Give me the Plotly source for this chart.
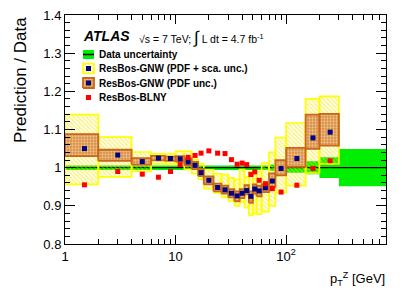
import plotly.graph_objects as go
import math

# ---------------- data ----------------
bin_edges = [0, 2, 4, 6, 8, 10, 12, 14, 16, 18, 22, 26, 30, 34, 38, 42, 46, 50,
             54, 60, 70, 80, 100, 150, 200, 300, 800]

# ResBos-GNW central value / data (first 25 bins)
gnw_central = [1.050, 1.033, 1.016, 1.025, 1.024, 1.023, 1.015, 1.006, 0.987,
               0.967, 0.948, 0.942, 0.933, 0.926, 0.933, 0.940, 0.925, 0.944,
               0.939, 0.947, 0.965, 0.998, 1.024, 1.078, 1.093]
# PDF + scale uncertainty band
gnw_tot_lo = [0.956, 0.976, 0.990, 1.010, 1.010, 1.010, 0.995, 0.984, 0.970,
              0.945, 0.934, 0.922, 0.912, 0.900, 0.910, 0.895, 0.875, 0.880,
              0.878, 0.885, 0.900, 0.935, 0.953, 0.986, 1.010]
gnw_tot_hi = [1.139, 1.080, 1.041, 1.036, 1.036, 1.043, 1.043, 1.021, 1.010,
              0.994, 0.984, 0.982, 0.973, 0.969, 0.995, 0.975, 0.990, 0.985,
              0.990, 1.012, 1.040, 1.079, 1.117, 1.180, 1.187]
# PDF-only uncertainty band
gnw_pdf_lo = [1.030, 1.018, 1.008, 1.019, 1.018, 1.016, 1.006, 0.996, 0.978,
              0.956, 0.938, 0.932, 0.922, 0.912, 0.920, 0.930, 0.908, 0.932,
              0.925, 0.936, 0.950, 0.980, 1.002, 1.049, 1.058]
gnw_pdf_hi = [1.088, 1.047, 1.025, 1.031, 1.029, 1.030, 1.024, 1.015, 0.997,
              0.977, 0.958, 0.953, 0.944, 0.938, 0.944, 0.954, 0.938, 0.956,
              0.952, 0.957, 0.985, 1.020, 1.052, 1.139, 1.141]
# ResBos-BLNY / data
blny = [0.955, 0.990, 0.983, 0.975, 0.990, 1.008, 1.027, 1.032, 1.038, 1.044,
        1.038, 1.037, 1.021, 1.009, 1.012, 1.008, 0.982, 0.989, 0.967, 0.958,
        0.945, 0.936, 0.954, 0.998, 1.018]
# relative data uncertainty (26 bins)
data_unc = [0.006] * 20 + [0.008, 0.010, 0.013, 0.017, 0.027, 0.049]

x_min, x_max = 1.0, 800.0
y_min, y_max = 0.8, 1.4
x_ticks = [1, 10, 100]
x_tick_text = ["1", "10", "10<sup>2</sup>"]

# ---------------- styling ----------------
FONT = "Liberation Sans, Arial, Helvetica, sans-serif"
GREEN = "#00ee00"
YELLOW = "#ffff00"
YHATCH = "#f5e600"
ORANGE_LINE = "#c8661a"
ORANGE_FILL = "#d98c3c"
NAVY = "#000080"
RED = "#ff0000"

W, H = 407, 292
ML, MR, MT, MB = 65, 21, 15, 48
PW, PH = W - ML - MR, H - MT - MB

YELLOW_PATTERN = dict(shape="\\", fgcolor=YHATCH, bgcolor="rgba(0,0,0,0)", size=3,
                      solidity=0.5, fillmode="overlay")
ORANGE_PATTERN = dict(shape=".", fgcolor="#fff6ea", bgcolor=ORANGE_FILL, size=3,
                      solidity=0.45, fillmode="overlay")


def fx(px):
    """pixel x -> fraction of plot area (paper coords)"""
    return (px - ML) / PW


def fy(py):
    """pixel y -> fraction of plot area (paper coords)"""
    return (MT + PH - py) / PH


def lo_edge(i):
    return max(bin_edges[i], x_min)


def hi_edge(i):
    return min(bin_edges[i + 1], x_max)


def centers(n):
    return [(lo_edge(i) + hi_edge(i)) / 2 for i in range(n)]


def rect_path(lows, highs):
    xs, ys = [], []
    for i, (a, b) in enumerate(zip(lows, highs)):
        x0, x1 = lo_edge(i), hi_edge(i)
        xs += [x0, x1, x1, x0, x0, None]
        ys += [a, a, b, b, a, None]
    return xs, ys


fig = go.Figure()

# data uncertainty band
d_lo = [1 - u for u in data_unc]
d_hi = [1 + u for u in data_unc]
xs, ys = rect_path(d_lo, d_hi)
fig.add_trace(go.Scatter(x=xs, y=ys, fill="toself", fillcolor=GREEN,
                         line=dict(width=0, color=GREEN), mode="lines",
                         hoverinfo="skip"))
# data line at 1
fig.add_trace(go.Scatter(x=[x_min, x_max], y=[1.0, 1.0], mode="lines",
                         line=dict(color="black", width=1.2), hoverinfo="skip"))

# PDF + scale band (yellow hatched)
xs, ys = rect_path(gnw_tot_lo, gnw_tot_hi)
fig.add_trace(go.Scatter(x=xs, y=ys, fill="toself", fillcolor="rgba(0,0,0,0)",
                         fillpattern=YELLOW_PATTERN,
                         line=dict(width=1.7, color=YELLOW), mode="lines",
                         hoverinfo="skip"))
# PDF band (orange cross-hatched)
xs, ys = rect_path(gnw_pdf_lo, gnw_pdf_hi)
fig.add_trace(go.Scatter(x=xs, y=ys, fill="toself", fillcolor=ORANGE_FILL,
                         fillpattern=ORANGE_PATTERN,
                         line=dict(width=1.8, color=ORANGE_LINE), mode="lines",
                         hoverinfo="skip"))

# GNW central markers
fig.add_trace(go.Scatter(x=centers(len(gnw_central)), y=gnw_central, mode="markers",
                         marker=dict(symbol="square", size=5, color=NAVY),
                         hoverinfo="skip"))
# BLNY markers
fig.add_trace(go.Scatter(x=centers(len(blny)), y=blny, mode="markers",
                         marker=dict(symbol="square", size=5, color=RED),
                         hoverinfo="skip"))

# ---------------- manual legend on an overlay axis (0..1 of plot area) ----------------
def swatch(cy, half=5):
    x0, x1 = fx(83), fx(94)
    y0, y1 = fy(cy + half), fy(cy - half)
    return [x0, x1, x1, x0, x0], [y0, y0, y1, y1, y0]


leg_rows = [54.5, 68.5, 83, 97.5]
sx, sy = swatch(leg_rows[0], 4.5)
fig.add_trace(go.Scatter(x=sx, y=sy, xaxis="x2", yaxis="y2", fill="toself",
                         fillcolor=GREEN, line=dict(width=0, color=GREEN),
                         mode="lines", hoverinfo="skip"))
fig.add_trace(go.Scatter(x=[fx(83), fx(94)], y=[fy(leg_rows[0])] * 2, xaxis="x2",
                         yaxis="y2", mode="lines", line=dict(color="black", width=1.5),
                         hoverinfo="skip"))
sx, sy = swatch(leg_rows[1])
fig.add_trace(go.Scatter(x=sx, y=sy, xaxis="x2", yaxis="y2", fill="toself",
                         fillcolor="rgba(0,0,0,0)", fillpattern=YELLOW_PATTERN,
                         line=dict(width=1.7, color=YELLOW), mode="lines",
                         hoverinfo="skip"))
sx, sy = swatch(leg_rows[2])
fig.add_trace(go.Scatter(x=sx, y=sy, xaxis="x2", yaxis="y2", fill="toself",
                         fillcolor=ORANGE_FILL, fillpattern=ORANGE_PATTERN,
                         line=dict(width=1.8, color=ORANGE_LINE), mode="lines",
                         hoverinfo="skip"))
fig.add_trace(go.Scatter(x=[fx(88.5), fx(88.5)], y=[fy(leg_rows[1]), fy(leg_rows[2])],
                         xaxis="x2", yaxis="y2", mode="markers",
                         marker=dict(symbol="square", size=5, color=NAVY),
                         hoverinfo="skip"))
fig.add_trace(go.Scatter(x=[fx(88.5)], y=[fy(leg_rows[3])], xaxis="x2", yaxis="y2",
                         mode="markers", marker=dict(symbol="square", size=5, color=RED),
                         hoverinfo="skip"))

leg_labels = ["Data uncertainty", "ResBos-GNW (PDF + sca. unc.)",
              "ResBos-GNW (PDF unc.)", "ResBos-BLNY"]
annotations = []
for lab, cy in zip(leg_labels, leg_rows):
    annotations.append(dict(x=fx(97), y=fy(cy), xref="paper", yref="paper",
                            text="<b>" + lab + "</b>", showarrow=False,
                            xanchor="left", yanchor="middle",
                            font=dict(family=FONT, size=10, color="black")))

annotations.append(dict(x=fx(81), y=fy(36), xref="paper", yref="paper",
                        text="<b><i>ATLAS</i></b>", showarrow=False,
                        xanchor="left", yanchor="middle",
                        font=dict(family=FONT, size=14, color="black")))
annotations.append(dict(x=fx(137), y=fy(37), xref="paper", yref="paper",
                        text="√s = 7 TeV; <span style='font-size:17px'>∫</span> L dt = 4.7 fb<sup>-1</sup>",
                        showarrow=False, xanchor="left", yanchor="middle",
                        font=dict(family=FONT, size=10.5, color="black")))
annotations.append(dict(x=fx(20), y=fy(15), xref="paper", yref="paper",
                        text="Prediction / Data", textangle=-90, showarrow=False,
                        xanchor="center", yanchor="top",
                        font=dict(family=FONT, size=17, color="black")))
annotations.append(dict(x=fx(387), y=fy(279), xref="paper", yref="paper",
                        text="p<sub>T</sub><sup>Z</sup> [GeV]", showarrow=False,
                        xanchor="right", yanchor="middle",
                        font=dict(family=FONT, size=13, color="black")))

x_minor = [m * 10 ** d for d in range(0, 3) for m in range(2, 10) if m * 10 ** d <= x_max]

fig.update_layout(
    width=W, height=H, autosize=False,
    margin=dict(l=ML, r=MR, t=MT, b=MB, pad=0, autoexpand=False),
    paper_bgcolor="white", plot_bgcolor="white",
    showlegend=False,
    font=dict(family=FONT, size=13, color="black"),
    annotations=annotations,
    xaxis=dict(type="log", range=[math.log10(x_min), math.log10(x_max)],
               tickvals=x_ticks, ticktext=x_tick_text, ticks="inside", ticklen=9,
               tickwidth=1, tickcolor="black", showline=True, linecolor="black",
               linewidth=1, mirror="allticks", showgrid=False, zeroline=False,
               automargin=False,
               tickfont=dict(family=FONT, size=13),
               minor=dict(tickvals=x_minor, ticks="inside", ticklen=5,
                          tickcolor="black", tickwidth=1, showgrid=False)),
    yaxis=dict(range=[y_min, y_max], dtick=0.1, tick0=0.8, ticks="inside",
               ticklen=10, tickwidth=1, tickcolor="black", showline=True,
               linecolor="black", linewidth=1, mirror="allticks", showgrid=False,
               zeroline=False, automargin=False, tickfont=dict(family=FONT, size=13),
               minor=dict(dtick=0.02, ticks="inside", ticklen=5, tickcolor="black",
                          tickwidth=1, showgrid=False)),
    xaxis2=dict(overlaying="x", range=[0, 1], visible=False, fixedrange=True),
    yaxis2=dict(overlaying="y", range=[0, 1], visible=False, fixedrange=True),
)

fig.write_html("out.html", config={"displayModeBar": False},
               post_script="document.body.style.margin='0';document.body.style.padding='0';")
